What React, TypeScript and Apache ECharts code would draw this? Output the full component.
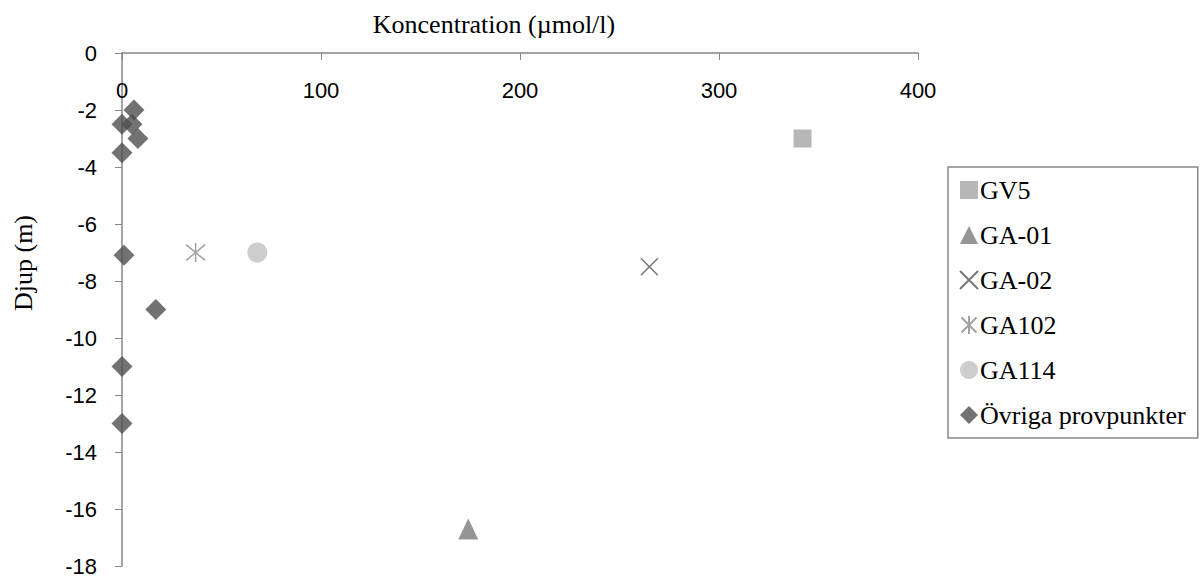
import React, { useEffect, useRef } from "react";
import * as echarts from "echarts";

const xTicks = [0, 100, 200, 300, 400];
const yTicks = [0, -2, -4, -6, -8, -10, -12, -14, -16, -18];

const gv5: [number, number][] = [[342, -3]];
const ga01: [number, number][] = [[174, -16.7]];
const ga02: [number, number][] = [[265, -7.5]];
const ga102: [number, number][] = [[37, -7]];
const ga114: [number, number][] = [[68, -7]];
const ovriga: [number, number][] = [
  [6, -2],
  [0, -2.5],
  [5, -2.5],
  [8, -3],
  [0, -3.5],
  [1, -7.1],
  [17, -9],
  [0, -11],
  [0, -13],
];

const crossPath = "path://M0,0L10,10M10,0L0,10";
const starPath = "path://M0,0L10,10M10,0L0,10M5,-1L5,11";

export default function App() {
  const ref = useRef<HTMLDivElement>(null);
  useEffect(() => {
    document.body.style.margin = "0";
    const chart = echarts.init(ref.current!, null, { renderer: "svg" });
    const serif = "'Liberation Serif', 'Times New Roman', serif";
    const sans = "'Liberation Sans', Arial, sans-serif";
    chart.setOption({
      animation: false,
      backgroundColor: "#ffffff",
      title: {
        text: "Koncentration (µmol/l)",
        left: 489,
        top: 6,
        textAlign: "center",
        textStyle: { fontFamily: serif, fontSize: 26, fontWeight: "normal", color: "#000" },
      },
      graphic: [
        {
          type: "text",
          x: 23,
          y: 263,
          rotation: Math.PI / 2,
          style: {
            text: "Djup (m)",
            fontFamily: serif,
            fontSize: 26,
            fill: "#000",
            textAlign: "center",
            textVerticalAlign: "middle",
          },
        },
      ],
      grid: { left: 122, top: 53, width: 796, height: 513, containLabel: false },
      xAxis: {
        type: "value",
        min: xTicks[0],
        max: xTicks[xTicks.length - 1],
        interval: 100,
        position: "top",
        axisLine: { onZero: false, lineStyle: { color: "#868686", width: 1.5 } },
        axisTick: { show: true, inside: true, length: 7, lineStyle: { color: "#868686" } },
        axisLabel: { inside: true, margin: 26, fontFamily: sans, fontSize: 22, color: "#000" },
        splitLine: { show: false },
      },
      yAxis: {
        type: "value",
        min: yTicks[yTicks.length - 1],
        max: yTicks[0],
        interval: 2,
        axisLine: { onZero: false, lineStyle: { color: "#868686", width: 1.5 } },
        axisTick: { show: true, length: 7, lineStyle: { color: "#868686" } },
        axisLabel: { margin: 25, fontFamily: sans, fontSize: 22, color: "#000" },
        splitLine: { show: false },
      },
      legend: {
        orient: "vertical",
        left: 948,
        top: 167,
        width: 250,
        padding: [10, 12, 10, 11],
        borderColor: "#888",
        borderWidth: 1.5,
        itemWidth: 18,
        itemHeight: 18,
        itemGap: 19,
        textStyle: { fontFamily: serif, fontSize: 26, lineHeight: 26, color: "#000", padding: [0, 0, 0, -3] },
        data: [
          { name: "GV5", icon: "rect" },
          { name: "GA-01", icon: "triangle" },
          { name: "GA-02", icon: crossPath },
          { name: "GA102", icon: starPath },
          { name: "GA114", icon: "circle" },
          { name: "Övriga provpunkter", icon: "diamond" },
        ],
      },
      series: [
        {
          name: "GV5",
          type: "scatter",
          data: gv5,
          symbol: "rect",
          symbolSize: 18,
          itemStyle: { color: "#a5a5a5" },
        },
        {
          name: "GA-01",
          type: "scatter",
          data: ga01,
          symbol: "triangle",
          symbolSize: [20, 21],
          itemStyle: { color: "#7a7a7a" },
        },
        {
          name: "GA-02",
          type: "scatter",
          data: ga02,
          symbol: crossPath,
          symbolSize: 17,
          itemStyle: { color: "rgba(0,0,0,0)", borderColor: "#555555", borderWidth: 1.5 },
        },
        {
          name: "GA102",
          type: "scatter",
          data: ga102,
          symbol: starPath,
          symbolSize: 19,
          itemStyle: { color: "rgba(0,0,0,0)", borderColor: "#8a8a8a", borderWidth: 1.5 },
        },
        {
          name: "GA114",
          type: "scatter",
          data: ga114,
          symbol: "circle",
          symbolSize: 20,
          itemStyle: { color: "#c0c0c0" },
        },
        {
          name: "Övriga provpunkter",
          type: "scatter",
          data: ovriga,
          symbol: "diamond",
          symbolSize: 21,
          itemStyle: { color: "#4f4f4f" },
        },
      ],
    });
    return () => chart.dispose();
  }, []);
  return <div ref={ref} style={{ width: 1201, height: 577 }} />;
}
